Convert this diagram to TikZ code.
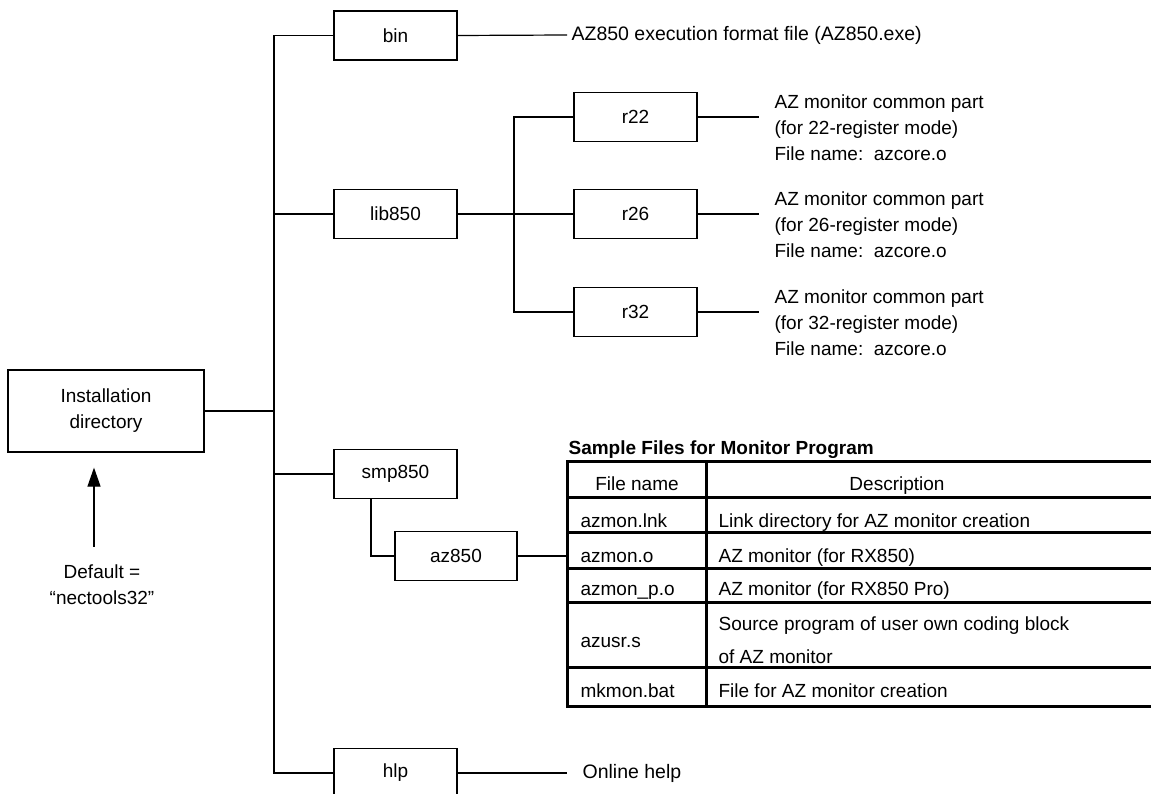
\documentclass[tikz,border=0pt]{standalone}
\usepackage{fontspec}
\setmainfont{Liberation Sans}
\usetikzlibrary{arrows.meta}
\begin{document}
\begin{tikzpicture}[x=1pt,y=-1pt,line width=1.2pt,
  every node/.style={font=\fontsize{19}{26}\selectfont},
  dirbox/.style={draw, line width=1.2pt, minimum width=123pt, minimum height=49pt, inner sep=0pt},
  lbl/.style={anchor=west, inner sep=0pt, font=\fontsize{19.5}{26}\selectfont},
  note/.style={anchor=west, align=left, inner sep=0pt},
  cell/.style={anchor=base west, inner sep=0pt},
  hcell/.style={anchor=base, inner sep=0pt},
  grid/.style={line width=3pt}]
\useasboundingbox (0,0) rectangle (1151,794);
\clip (0,0) rectangle (1151,794);

% directory boxes
\node[dirbox, minimum width=196pt, minimum height=82pt, align=center] (inst) at (106,411) {Installation\\directory};
\node[dirbox] (bin) at (395.5,35.5) {bin};
\node[dirbox] (lib) at (395.5,214) {lib850};
\node[dirbox] (smp) at (395.5,474) {smp850};
\node[dirbox, minimum width=122pt] (az) at (456,556) {az850};
\node[dirbox] (hlp) at (395.5,773) {hlp};
\node[dirbox] (r22) at (635.5,117) {r22};
\node[dirbox] (r26) at (635.5,214) {r26};
\node[dirbox] (r32) at (635.5,312) {r32};

% trunk
\coordinate (tx) at (274,0);
\draw (bin.west) -- (bin.west -| tx) -- (hlp.west -| tx) -- (hlp.west);
\draw (inst.east) -- (inst.east -| tx);
\draw (lib.west) -- (lib.west -| tx);
\draw (smp.west) -- (smp.west -| tx);

% lib850 sub-tree
\coordinate (sx) at (514,0);
\draw (r22.west) -- (r22.west -| sx) -- (r32.west -| sx) -- (r32.west);
\draw (lib.east) -- (r26.west);

% smp850 -> az850
\draw ([xshift=-24.5pt]smp.south) |- (az.west);

% descriptions
\node[lbl] (binT) at (571,35) {AZ850 execution format file (AZ850.exe)};
\draw (bin.east) -- ([xshift=-4pt]binT.west);
\node[lbl] (hlpT) at (582,773) {Online help};
\draw (hlp.east) -- ([xshift=-15pt]hlpT.west);

\node[note] (r22T) at (774,128) {AZ monitor common part\\(for 22-register mode)\\File name:\ \ azcore.o};
\node[note] (r26T) at (774,225) {AZ monitor common part\\(for 26-register mode)\\File name:\ \ azcore.o};
\node[note] (r32T) at (774,323) {AZ monitor common part\\(for 32-register mode)\\File name:\ \ azcore.o};
\coordinate (r22e) at (759,117);
\coordinate (r26e) at (759,214);
\coordinate (r32e) at (759,312);
\draw (r22.east) -- (r22e);
\draw (r26.east) -- (r26e);
\draw (r32.east) -- (r32e);

% default arrow
\node[align=center, inner sep=0pt] (dflt) at (102,585) {Default =\\“nectools32”};
\coordinate (ax) at (94,0);
\draw[-{Triangle[length=19pt,width=13pt]}, shorten <=17.5pt, shorten >=15pt] (dflt.north -| ax) -- (inst.south -| ax);

% table
\node[anchor=base west, inner sep=0pt, font=\bfseries\fontsize{19}{26}\selectfont] (ttl) at (568,454) {Sample Files for Monitor Program};
\coordinate (tblL) at (567,556);
\draw (az.east) -- (tblL);
\draw[grid] (1160,461) -- (567,461) -- (567,706) -- (1160,706);
\draw[grid] (567,497) -- (1160,497);
\draw[grid] (567,532) -- (1160,532);
\draw[grid] (567,568) -- (1160,568);
\draw[grid] (567,602) -- (1160,602);
\draw[grid] (567,667) -- (1160,667);
\draw[grid] (706,461) -- (706,706);

\node[hcell] (h1) at (637,490) {File name};
\node[hcell] (h2) at (897,490) {Description};
\node[cell] (c1) at (580,527) {azmon.lnk};
\node[cell] (d1) at (718,527) {Link directory for AZ monitor creation};
\node[cell] (c2) at (580,562) {azmon.o};
\node[cell] (d2) at (718,562) {AZ monitor (for RX850)};
\node[cell] (c3) at (580,595) {azmon\_p.o};
\node[cell] (d3) at (718,595) {AZ monitor (for RX850 Pro)};
\node[cell] (c4) at (580,647) {azusr.s};
\node[cell, text width=358pt, align=justify] (d4a) at (718,630) {Source program of user own coding block\hspace*{\fill}\hbox{}};
\node[cell] (d4b) at (718,663) {of AZ monitor};
\node[cell] (c5) at (580,697) {mkmon.bat};
\node[cell] (d5) at (718,697) {File for AZ monitor creation};
\end{tikzpicture}
\end{document}
